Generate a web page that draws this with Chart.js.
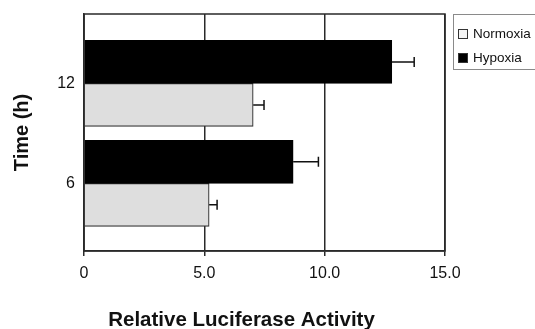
<!DOCTYPE html>
<html><head><meta charset="utf-8">
<script src="https://cdn.jsdelivr.net/npm/chart.js@4"></script>
<style>
html,body{margin:0;padding:0;background:#fff;}
#wrap{position:relative;width:535px;height:329px;overflow:hidden;}
#legend{position:absolute;left:453px;top:14px;width:110px;height:56px;border:1.5px solid #8a8a8a;box-sizing:border-box;font:13.5px 'Liberation Sans',Arial,sans-serif;color:#111;}
.item{position:absolute;left:4px;display:flex;align-items:center;height:15px;}
.sw{width:8px;height:8px;border:1px solid #333;margin-right:5px;}
</style></head>
<body><div id="wrap"><canvas id="c" width="535" height="329"></canvas><div id="legend"></div></div>
<script>
const timeLabels = ['12', '6'];
const hypoxia = [12.79, 8.69];
const hypoxiaErr = [0.93, 1.05];
const normoxia = [7.03, 5.20];
const normoxiaErr = [0.45, 0.33];
const xTicks = [0, 5, 10, 15];
const xTickLabels = ['0', '5.0', '10.0', '15.0'];
const xTitle = 'Relative Luciferase Activity';
const yTitle = 'Time (h)';

const FONT = "'Liberation Sans', Arial, Helvetica, sans-serif";
const toPoints = (vals) => vals.map((v, i) => ({ x: v, y: i + 1 }));

const datasets = [
  { label: 'Hypoxia', data: toPoints(hypoxia), errors: hypoxiaErr, backgroundColor: '#000000', borderColor: '#000000', borderWidth: 1, barThickness: 43 },
  { label: 'Normoxia', data: toPoints(normoxia), errors: normoxiaErr, backgroundColor: '#dedede', borderColor: '#333333', borderWidth: 1.2, barThickness: 43 }
];

const errorBars = {
  id: 'errorBars',
  afterDatasetsDraw(chart) {
    const ctx = chart.ctx, xs = chart.scales.x;
    ctx.save();
    ctx.strokeStyle = '#111';
    ctx.lineWidth = 1.5;
    chart.data.datasets.forEach((ds, di) => {
      const meta = chart.getDatasetMeta(di);
      meta.data.forEach((el, i) => {
        const v = ds.data[i].x, e = ds.errors[i];
        const x1 = xs.getPixelForValue(v), x2 = xs.getPixelForValue(v + e);
        ctx.beginPath();
        ctx.moveTo(x1, el.y); ctx.lineTo(x2, el.y);
        ctx.moveTo(x2, el.y - 5); ctx.lineTo(x2, el.y + 5);
        ctx.stroke();
      });
    });
    ctx.restore();
  }
};

const frame = {
  id: 'frame',
  afterDatasetsDraw(chart) {
    const { ctx, chartArea: a } = chart;
    ctx.save();
    ctx.strokeStyle = '#2a2a2a';
    ctx.lineWidth = 1.5;
    ctx.strokeRect(a.left, a.top, a.right - a.left, a.bottom - a.top);
    ctx.restore();
  }
};

const bottomTitle = {
  id: 'bottomTitle',
  afterDraw(chart) {
    const { ctx, chartArea: a } = chart;
    ctx.save();
    ctx.font = 'bold 20.5px ' + FONT;
    ctx.fillStyle = '#111';
    ctx.textAlign = 'center';
    ctx.textBaseline = 'middle';
    ctx.fillText(xTitle, a.left + 157.5, a.bottom + 69);
    ctx.restore();
  }
};

new Chart(document.getElementById('c'), {
  type: 'bar',
  data: { datasets },
  plugins: [errorBars, frame, bottomTitle],
  options: {
    responsive: false,
    animation: false,
    indexAxis: 'y',
    layout: { padding: { left: 0, top: 14, right: 90, bottom: 0 } },
    plugins: { legend: { display: false }, tooltip: { enabled: false } },
    scales: {
      x: {
        type: 'linear', min: 0, max: 15,
        afterBuildTicks: (s) => { s.ticks = xTicks.map(v => ({ value: v })); },
        afterFit: (s) => { s.height = 78; s.paddingLeft = 0; s.paddingRight = 0; },
        ticks: { callback: (v, i) => xTickLabels[i], font: { family: FONT, size: 16 }, color: '#111', padding: 8, maxRotation: 0 },
        grid: { color: '#2a2a2a', lineWidth: 1.5, tickLength: 5, drawTicks: true },
        border: { display: true, color: '#2a2a2a', width: 1.5 }
      },
      y: {
        type: 'linear', min: 0.305, max: 2.677, reverse: true, offset: false,
        afterBuildTicks: (s) => { s.ticks = timeLabels.map((_, i) => ({ value: i + 1 })); },
        afterFit: (s) => { s.width = 84; s.paddingTop = 0; s.paddingBottom = 0; },
        ticks: { callback: (v, i) => timeLabels[i], font: { family: FONT, size: 16 }, color: '#111', padding: 9 },
        grid: { display: false, drawTicks: false, offset: false },
        border: { display: true, color: '#2a2a2a', width: 1.5 },
        title: { display: true, text: yTitle, font: { family: FONT, size: 20, weight: 'bold' }, color: '#111', padding: { top: 10, bottom: 0 } }
      }
    }
  }
});

// legend built from the datasets (Normoxia listed first)
const leg = document.getElementById('legend');
[1, 0].forEach((di, k) => {
  const ds = datasets[di];
  const it = document.createElement('div');
  it.className = 'item';
  it.style.top = (11 + k * 24) + 'px';
  const sw = document.createElement('span');
  sw.className = 'sw';
  sw.style.background = di === 1 ? '#f4f4f4' : ds.backgroundColor;
  it.appendChild(sw);
  it.appendChild(document.createTextNode(ds.label));
  leg.appendChild(it);
});
</script>
</body></html>
